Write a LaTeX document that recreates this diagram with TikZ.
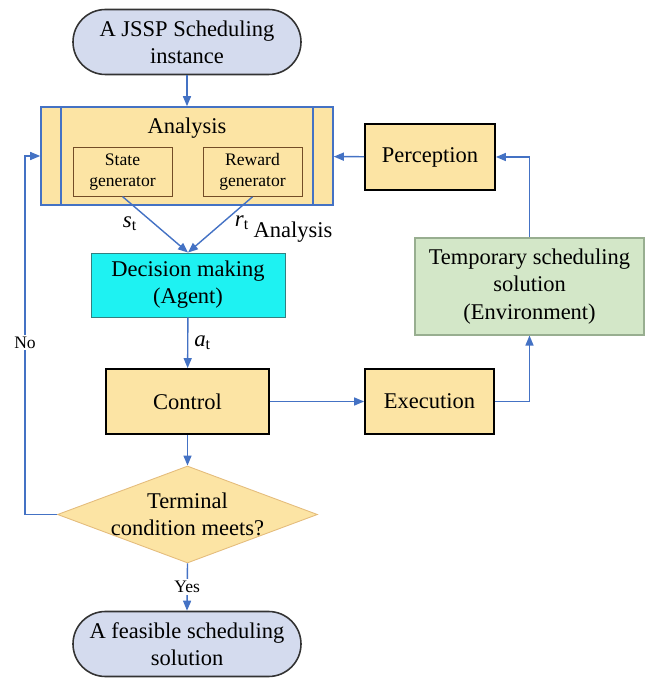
\documentclass[tikz,border=0pt]{standalone}
\usepackage{fontspec}
\setmainfont{LiberationSerif}[Extension=.ttf,UprightFont=*-Regular,ItalicFont=*-Italic,BoldFont=*-Bold,BoldItalicFont=*-BoldItalic]
\usepackage{xcolor}
\usetikzlibrary{arrows.meta,positioning,shapes.geometric}
\definecolor{flowblue}{HTML}{4472C4}
\definecolor{boxyellow}{HTML}{FCE4A4}
\definecolor{termblue}{HTML}{D4DBEE}
\definecolor{envgreen}{HTML}{D3E7C8}
\definecolor{envedge}{HTML}{98AE90}
\definecolor{agentcyan}{HTML}{1EF2F2}
\begin{document}
\begin{tikzpicture}[
  terminal/.style={draw=black!80,line width=0.9pt,rounded corners=0.65cm,fill=termblue,minimum width=4.56cm,minimum height=1.3cm,align=center,font=\fontsize{12.8}{15.5}\selectfont},
  proc/.style={draw=black,line width=1pt,fill=boxyellow,minimum height=1.3cm,font=\fontsize{12.8}{15.5}\selectfont},
  gen/.style={draw=brown!60!black,line width=0.5pt,fill=boxyellow,minimum width=1.98cm,minimum height=0.96cm,align=center,font=\fontsize{10}{12}\selectfont},
  flow/.style={-{Triangle[length=2mm,width=1.6mm]},line width=0.8pt,flowblue},
  lbl/.style={font=\fontsize{10}{12}\selectfont,fill=white,text=black,inner sep=1pt}]
 \useasboundingbox (0,0) rectangle (12.96,13.56);
 \node[terminal] (start) at (3.74,12.72) {A JSSP Scheduling\\instance};
 \node[draw=flowblue,line width=0.9pt,fill=boxyellow,minimum width=5.84cm,minimum height=1.96cm] (ana) at (3.74,10.44) {};
 \draw[flowblue,line width=0.9pt] (1.22,9.46) -- (1.22,11.42) (6.26,9.46) -- (6.26,11.42);
 \node[font=\fontsize{12.8}{15.5}\selectfont] (anatitle) at (3.74,11.0) {Analysis};
 \node[gen] (sg) at (2.45,10.12) {State\\generator};
 \node[gen] (rg) at (5.05,10.12) {Reward\\generator};
 \node[draw=teal!60!gray,line width=0.5pt,fill=agentcyan,minimum width=3.88cm,minimum height=1.28cm,align=center,font=\fontsize{12.8}{15.5}\selectfont] (agent) at (3.76,7.86) {Decision making\\(Agent)};
 \node[proc,minimum width=3.26cm] (ctrl) at (3.75,5.53) {Control};
 \node[proc,minimum width=2.58cm] (exec) at (8.59,5.53) {Execution};
 \node[proc,minimum width=2.6cm,minimum height=1.32cm] (perc) at (8.6,10.42) {Perception};
 \node[draw=envedge,line width=0.6pt,fill=envgreen,minimum width=4.58cm,minimum height=1.94cm,align=center,font=\fontsize{12.8}{15.5}\selectfont] (env) at (10.59,7.83) {Temporary scheduling\\solution\\(Environment)};
 \node[diamond,draw=brown!40!boxyellow,line width=0.5pt,fill=boxyellow,inner sep=0pt,aspect=2.68,minimum width=5.2cm,minimum height=1.94cm] (term) at (3.75,3.27) {};
 \node[align=center,font=\fontsize{12.8}{15.5}\selectfont] (termtxt) at (3.75,3.28) {Terminal\\condition meets?};
 \node[terminal] (done) at (3.74,0.68) {A feasible scheduling\\solution};
 % connectors
 \draw[flow] (start) -- (ana);
 \draw[flow] (sg.south) -- (agent.north);
 \draw[flow] (rg.south) -- (agent.north);
 \node[font=\fontsize{13}{15}\selectfont] (st) at (2.6,9.08) {\textit{s}\textsubscript{t}};
 \node[font=\fontsize{13}{15}\selectfont] (rt) at (4.84,9.1) {\textit{r}\textsubscript{t}};
 \node[font=\fontsize{12.8}{15}\selectfont] (anaextra) at (5.86,8.92) {Analysis};
 \draw[flow] (agent) -- node[right,text=black,font=\fontsize{13}{15}\selectfont]{\textit{a}\textsubscript{t}} (ctrl);
 \draw[flow] (ctrl) -- (exec);
 \draw[flow] (exec.east) -| (env.south);
 \draw[flow] (env.north) |- (perc.east);
 \draw[flow] (perc) -- (ana);
 \draw[flow] (ctrl) -- (term);
 \draw[flow] (term.west) -- (0.5,3.27) -- node[lbl,pos=0.48]{No} (0.5,10.44) -- (ana.west);
 \draw[flow] (term.south) -- node[lbl]{Yes} (done.north);
\end{tikzpicture}
\end{document}
